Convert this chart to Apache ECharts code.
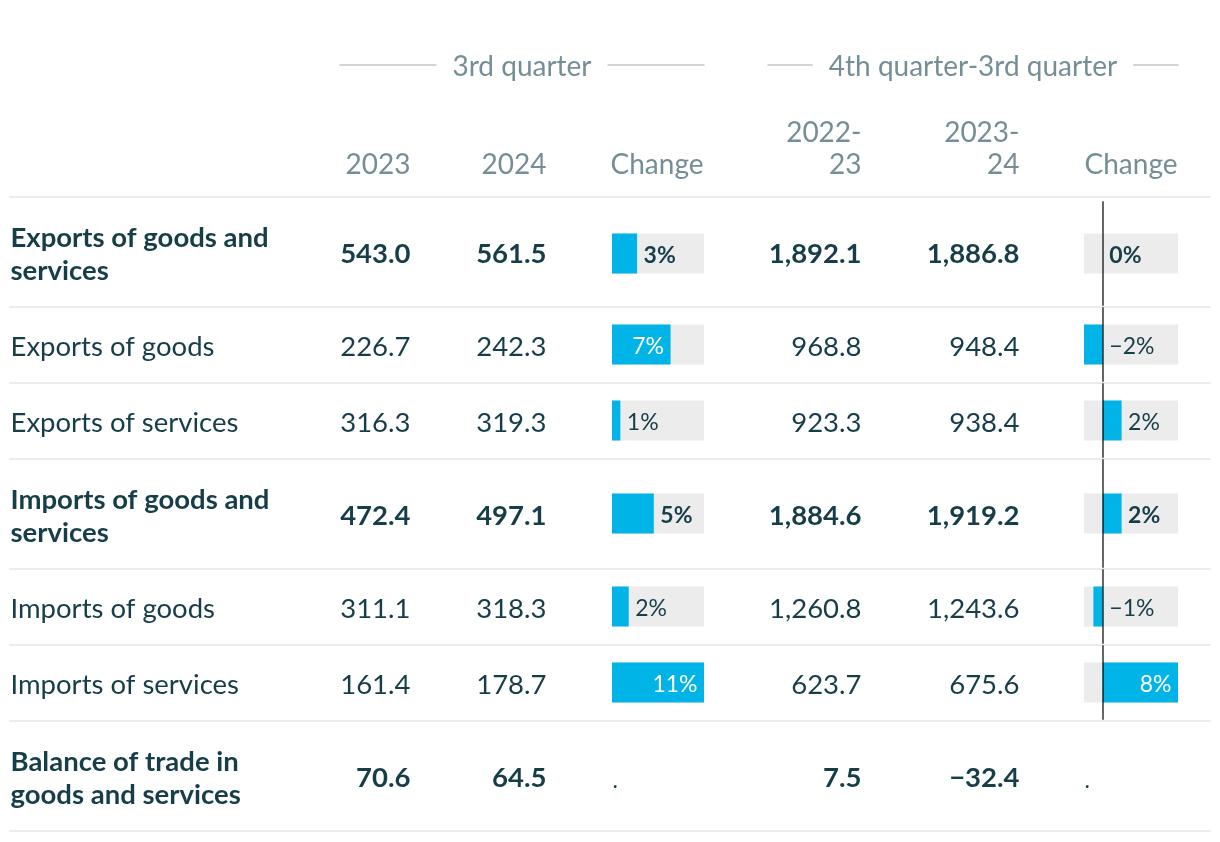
<!DOCTYPE html>
<html><head><meta charset="utf-8">
<script src="https://cdn.jsdelivr.net/npm/echarts@6/dist/echarts.min.js"></script>
<style>html,body{margin:0;padding:0;background:#fff}#c{width:1220px;height:842px}</style>
</head><body><div id="c"></div>
<script>
// ---------- DATA ----------
const rowLabels = ['Exports of goods and services','Exports of goods','Exports of services','Imports of goods and services','Imports of goods','Imports of services','Balance of trade in goods and services'];
const q3y2023 = [543.0, 226.7, 316.3, 472.4, 311.1, 161.4, 70.6];
const q3y2024 = [561.5, 242.3, 319.3, 497.1, 318.3, 178.7, 64.5];
const q3Change = [3, 7, 1, 5, 2, 11, null];
const fy2223 = [1892.1, 968.8, 923.3, 1884.6, 1260.8, 623.7, 7.5];
const fy2324 = [1886.8, 948.4, 938.4, 1919.2, 1243.6, 675.6, -32.4];
const fyChange = [0, -2, 2, 2, -1, 8, null];
const groupHeaders = ['3rd quarter', '4th quarter-3rd quarter'];
const columnHeaders = ['2023', '2024', 'Change', '2022-\n23', '2023-\n24', 'Change'];
const totalRows = [0, 3, 6];
const notAvailable = '.';

// ---------- LAYOUT / STYLE ----------
const FONT = 'Lato';
const DARK = '#163e49', GREY = '#758e95', BLUE = '#00b4e8', BG = '#ececec', RULE = '#c6c6c6', SEP = '#ececec';
const L = {
  tableLeft: 10, tableRight: 1210, headerTop: 100, headerBottom: 197,
  tallRow: 110, shortRow: 76, numCols: [411, 547, 862, 1020],
  chgCols: [[612, 704], [1084, 1178]], groups: [[340, 704], [768, 1178]],
  groupY: 65, colHeadBottom: 181, labelWidth: 290, barWidth: 40,
  bodySize: 27.5, headSize: 28, pctSize: 23, textShift: 2.5
};

const grids = [], xAxes = [], yAxes = [], series = [];
function addGrid(g, x, y) {
  grids.push(g);
  const i = grids.length - 1;
  xAxes.push(Object.assign({gridIndex: i}, x));
  yAxes.push(Object.assign({gridIndex: i}, y));
  return i;
}
const hiddenVal = (min, max) => ({type: 'value', min, max, show: false});
const lineAxis = (min, max, color, width) => ({
  type: 'value', min, max, position: 'bottom',
  axisLine: {show: true, onZero: false, lineStyle: {color, width}},
  axisTick: {show: false}, axisLabel: {show: false}, splitLine: {show: false}
});
function textSeries(gi, data, z) {
  return {type: 'scatter', xAxisIndex: gi, yAxisIndex: gi, symbolSize: 1, silent: true,
    itemStyle: {color: 'rgba(0,0,0,0)', opacity: 1}, z: z || 5, data};
}
function fmtNum(v) {
  const s = Math.abs(v).toFixed(1).replace(/\B(?=(\d{3})+(?!\d))/g, ',');
  return (v < 0 ? '\u2212' : '') + s;
}
function fmtPct(v) { return (v < 0 ? '\u2212' : '') + Math.abs(v) + '%'; }

// ---------- HEADER ----------
{
  const gh = L.headerBottom - L.headerTop;
  const gi = addGrid({left: L.tableLeft, width: L.tableRight - L.tableLeft, top: L.headerTop, height: gh},
    lineAxis(L.tableLeft, L.tableRight, SEP, 2), hiddenVal(0, 1));
  const anchors = [L.numCols[0], L.numCols[1], L.chgCols[0][1], L.numCols[2], L.numCols[3], L.chgCols[1][1]];
  const yv = (L.headerBottom - L.colHeadBottom) / gh;
  series.push(textSeries(gi, columnHeaders.map((t, i) => ({
    name: t, value: [anchors[i], yv],
    label: {show: true, position: 'left', distance: 0, align: 'right', verticalAlign: 'bottom',
      formatter: t, fontFamily: FONT, fontSize: L.headSize, lineHeight: 32, color: GREY}
  }))));
  groupHeaders.forEach((t, k) => {
    const g = L.groups[k];
    const gi2 = addGrid({left: g[0], width: g[1] - g[0], top: L.groupY - 10, height: 10},
      lineAxis(0, 1, RULE, 1.5), hiddenVal(0, 1));
    series.push(textSeries(gi2, [{name: t, value: [0.5, 0],
      label: {show: true, position: 'inside', formatter: t, fontFamily: FONT, fontSize: L.headSize,
        color: GREY, backgroundColor: '#fff', padding: [2, 16], offset: [0, 1.5]}}]));
  });
}

// ---------- BODY ----------
let rowTop = L.headerBottom;
const chgData = [q3Change, fyChange];
const chgRange = chgData.map(arr => {
  const v = arr.filter(x => x !== null);
  return [Math.min(0, ...v), Math.max(...v)];
});
const sh = [0, L.textShift];
rowLabels.forEach((lab, r) => {
  const isTotal = totalRows.includes(r);
  const h = isTotal ? L.tallRow : L.shortRow;
  const weight = isTotal ? 'bold' : 'normal';
  const gi = addGrid({left: L.tableLeft, width: L.tableRight - L.tableLeft, top: rowTop, height: h},
    lineAxis(L.tableLeft, L.tableRight, SEP, 2), hiddenVal(0, 1));
  const items = [{name: lab, value: [L.tableLeft, 0.5],
    label: {show: true, position: 'right', distance: 0, align: 'left', formatter: lab, offset: sh,
      width: L.labelWidth, overflow: 'break', lineHeight: 33,
      fontFamily: FONT, fontSize: L.bodySize, fontWeight: weight, color: DARK}}];
  [q3y2023, q3y2024, fy2223, fy2324].forEach((arr, k) => {
    const t = fmtNum(arr[r]);
    items.push({name: t, value: [L.numCols[k], 0.5],
      label: {show: true, position: 'left', distance: 0, formatter: t, offset: sh,
        fontFamily: FONT, fontSize: L.bodySize, fontWeight: weight, color: DARK}});
  });
  chgData.forEach((arr, c) => {
    if (arr[r] === null) {
      items.push({name: notAvailable, value: [L.chgCols[c][0], 0.5],
        label: {show: true, position: 'right', distance: 0, formatter: notAvailable, offset: [0, 5],
          fontFamily: FONT, fontSize: L.pctSize, color: DARK}});
    }
  });
  series.push(textSeries(gi, items));

  chgData.forEach((arr, c) => {
    const v = arr[r];
    if (v === null) return;
    const cr = chgRange[c];
    const bg = addGrid({left: L.chgCols[c][0], width: L.chgCols[c][1] - L.chgCols[c][0], top: rowTop + (r === 0 ? 5 : 1), height: h - (r === 0 ? 7 : 3)},
      {type: 'value', min: cr[0], max: cr[1], show: false,
        axisLine: {show: false}, axisTick: {show: false}, axisLabel: {show: false}, splitLine: {show: false}},
      {type: 'category', data: ['v'], z: 10,
        axisLine: {show: c === 1, onZero: true, lineStyle: {color: 'rgba(0,0,0,0.6)', width: 2}},
        axisTick: {show: false}, axisLabel: {show: false}, splitLine: {show: false}});
    series.push({type: 'bar', xAxisIndex: bg, yAxisIndex: bg, barWidth: L.barWidth, silent: true,
      showBackground: true, backgroundStyle: {color: BG}, itemStyle: {color: BLUE}, data: [v]});
    const inside = v > 0 && v / cr[1] > 0.5;
    const t = fmtPct(v);
    series.push(textSeries(bg, [{name: t, value: [inside ? v : Math.max(v, 0), 0],
      label: {show: true, position: inside ? 'left' : 'right', distance: 6, formatter: t, offset: sh,
        fontFamily: FONT, fontSize: L.pctSize, fontWeight: weight, color: inside ? '#fff' : DARK}}], 20));
  });
  rowTop += h;
});

const chart = echarts.init(document.getElementById('c'));
chart.setOption({animation: false, grid: grids, xAxis: xAxes, yAxis: yAxes, series});
</script></body></html>
